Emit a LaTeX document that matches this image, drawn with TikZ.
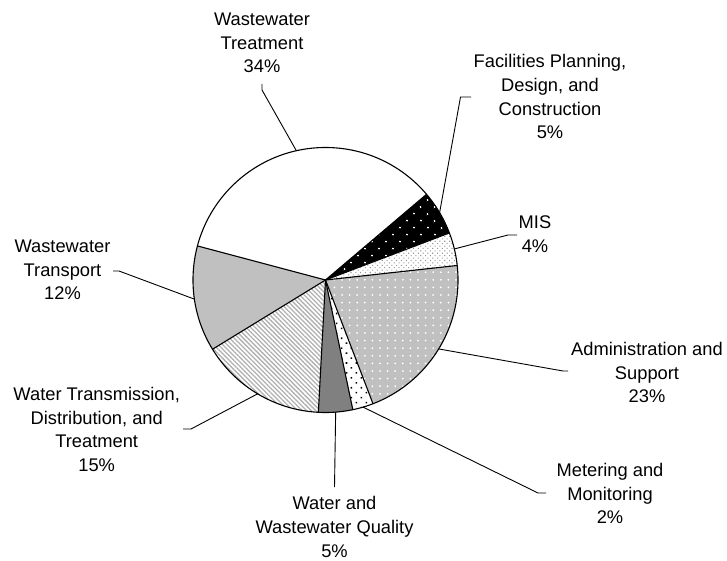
\documentclass[tikz,border=0pt]{standalone}
\usepackage{fontspec}
\setmainfont{Liberation Sans}
\usetikzlibrary{patterns.meta}
\definecolor{ltgray}{HTML}{C0C0C0}
\definecolor{dkgray}{HTML}{808080}
\definecolor{stripegray}{HTML}{B0B0B0}
\begin{document}
\begin{tikzpicture}[x=1pt,y=-1pt,
  lbl/.style={anchor=north, inner sep=0pt, align=center, font=\fontsize{18.3}{23.6}\selectfont},
  leader/.style={draw=black, line width=0.9pt},
  pieline/.style={draw=black, line width=1.1pt, line join=round}]
\useasboundingbox[fill=white] (0,0) rectangle (727,561);
\coordinate (c) at (325.5,280);
\def\R{132.5}
\begin{scope}[shift={(325.5,280)}, x=1pt, y=1pt]
  % Wastewater Treatment
  \fill[white] (0,0) -- (40.3:\R) arc[start angle=40.3, end angle=165.1, radius=\R] -- cycle;
  % Facilities
  \fill[black] (0,0) -- (20.8:\R) arc[start angle=20.8, end angle=40.3, radius=\R] -- cycle;
  \fill[pattern={Dots[distance=10.5pt, angle=45, radius=1.1pt]}, pattern color=white] (0,0) -- (20.8:\R) arc[start angle=20.8, end angle=40.3, radius=\R] -- cycle;
  % MIS
  \fill[white] (0,0) -- (6.3:\R) arc[start angle=6.3, end angle=20.8, radius=\R] -- cycle;
  \fill[pattern={Dots[distance=3.4pt, angle=45, radius=0.75pt]}, pattern color=gray!80] (0,0) -- (6.3:\R) arc[start angle=6.3, end angle=20.8, radius=\R] -- cycle;
  % Administration
  \fill[ltgray] (0,0) -- (-69:\R) arc[start angle=-69, end angle=6.3, radius=\R] -- cycle;
  \fill[pattern={Dots[distance=7.6pt, radius=1pt]}, pattern color=white] (0,0) -- (-69:\R) arc[start angle=-69, end angle=6.3, radius=\R] -- cycle;
  % Metering
  \fill[white] (0,0) -- (-78.1:\R) arc[start angle=-78.1, end angle=-69, radius=\R] -- cycle;
  \fill[pattern={Dots[distance=7pt, angle=45, radius=1.1pt]}, pattern color=black] (0,0) -- (-78.1:\R) arc[start angle=-78.1, end angle=-69, radius=\R] -- cycle;
  % Water quality
  \fill[dkgray] (0,0) -- (-93.1:\R) arc[start angle=-93.1, end angle=-78.1, radius=\R] -- cycle;
  % Water transmission
  \fill[white] (0,0) -- (-148.5:\R) arc[start angle=-148.5, end angle=-93.1, radius=\R] -- cycle;
  \fill[pattern={Lines[angle=-45, distance=3.2pt, line width=1.3pt]}, pattern color=stripegray] (0,0) -- (-148.5:\R) arc[start angle=-148.5, end angle=-93.1, radius=\R] -- cycle;
  % Wastewater transport
  \fill[ltgray] (0,0) -- (-194.9:\R) arc[start angle=-194.9, end angle=-148.5, radius=\R] -- cycle;
  % outlines
  \foreach \a in {40.3,20.8,6.3,-69,-78.1,-93.1,-148.5,165.1}
    \draw[pieline] (0,0) -- (\a:\R);
  \draw[pieline] (0,0) circle[radius=\R];
  % leader start points
  \coordinate (eWWT) at (102.7:\R);
  \coordinate (eFac) at (30.55:\R);
  \coordinate (eMIS) at (13.55:\R);
  \coordinate (eAdm) at (-31.35:\R);
  \coordinate (eMet) at (-73.55:\R);
  \coordinate (eWQ) at (-85.6:\R);
  \coordinate (eWTr) at (-120.8:\R);
  \coordinate (eWWTp) at (-171.7:\R);
\end{scope}

% labels
\node[lbl] (lWWT) at (262,12.8) {Wastewater\\Treatment\\34\%};
\node[lbl] (lFac) at (550,54.5) {Facilities Planning,\\Design, and\\Construction\\5\%};
\node[lbl] (lMIS) at (535,216) {MIS\\4\%};
\node[lbl] (lAdm) at (647,342) {Administration and\\Support\\23\%};
\node[lbl] (lMet) at (610,463) {Metering and\\Monitoring\\2\%};
\node[lbl] (lWQ) at (334.5,496.5) {Water and\\Wastewater Quality\\5\%};
\node[lbl] (lWTr) at (96.7,387) {Water Transmission,\\Distribution, and\\Treatment\\15\%};
\node[lbl] (lWWTp) at (62.5,240) {Wastewater\\Transport\\12\%};

% leader bends and ends
\coordinate (kWWT) at (262,90);   \coordinate (tWWT) at (262,84);
\coordinate (kFac) at (460.5,97); \coordinate (tFac) at (471,97);
\coordinate (kMIS) at (508,235);  \coordinate (tMIS) at (517,235);
\coordinate (kAdm) at (563,371);  \coordinate (tAdm) at (568,371);
\coordinate (kMet) at (538,493);  \coordinate (tMet) at (546,493);
\coordinate (tWQ) at (334.5,487);
\coordinate (kWTr) at (191,429);  \coordinate (tWTr) at (183,429);
\coordinate (kWWTp) at (119,271); \coordinate (tWWTp) at (113,271);

\draw[leader] (eWWT) -- (kWWT) -- (tWWT);
\draw[leader] (eFac) -- (kFac) -- (tFac);
\draw[leader] (eMIS) -- (kMIS) -- (tMIS);
\draw[leader] (eAdm) -- (kAdm) -- (tAdm);
\draw[leader] (eMet) -- (kMet) -- (tMet);
\draw[leader] (eWQ) -- (tWQ);
\draw[leader] (eWTr) -- (kWTr) -- (tWTr);
\draw[leader] (eWWTp) -- (kWWTp) -- (tWWTp);
\end{tikzpicture}
\end{document}
